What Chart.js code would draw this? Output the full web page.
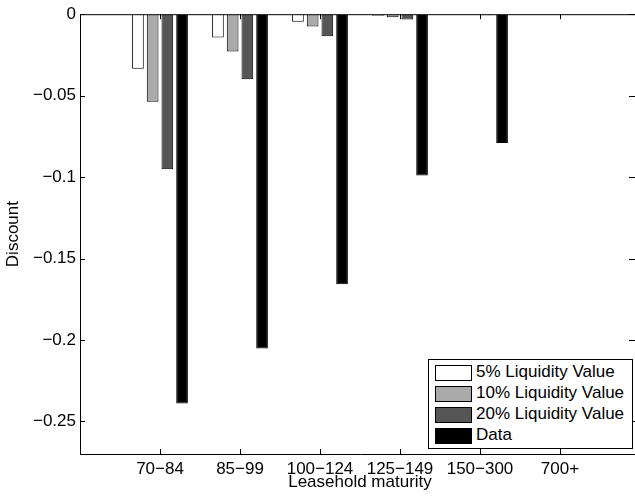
<!DOCTYPE html>
<html lang="en">
<head>
    <meta charset="UTF-8">
    <title>Leasehold discount</title>
    <script src="https://cdn.jsdelivr.net/npm/chart.js"></script>
    <style>
        html, body { margin: 0; padding: 0; overflow: hidden; background: #fff; }
        /* axes run a few px past the right edge, as in the original figure */
        #wrap { position: relative; width: 635px; height: 496px; overflow: hidden; }
        #myChart { position: absolute; left: 0; top: 0; }
        #legend {
            position: absolute; left: 428px; top: 359px; width: 205px; height: 90px;
            box-sizing: border-box; border: 1px solid #000; background: #fff;
            font-family: "Liberation Sans", Arial, sans-serif; font-size: 17px; color: #000;
        }
        .row { position: absolute; left: 6px; height: 16px; white-space: nowrap; }
        .sw { position: absolute; left: 0; top: 0; width: 37px; height: 16px; box-sizing: border-box; border: 1px solid #000; }
        .tx { position: absolute; left: 41px; top: -3px; line-height: 20px; }
    </style>
</head>
<body>
<div id="wrap">
    <canvas id="myChart" width="645" height="496"></canvas>
    <div id="legend"></div>
</div>

<script>
    // values
    const categories = ['70\u221284', '85\u221299', '100\u2212124', '125\u2212149', '150\u2212300', '700+'];
    const liq5 = [-0.0335, -0.0143, -0.0047, -0.0009, -0.0003, -0.0001];
    const liq10 = [-0.0537, -0.0229, -0.0075, -0.0019, -0.0005, -0.0002];
    const liq20 = [-0.0952, -0.0400, -0.0135, -0.0033, -0.0007, -0.0003];
    const observed = [-0.239, -0.2053, -0.1658, -0.099, -0.079, -0.0005];
    const yTicks = [0, -0.05, -0.1, -0.15, -0.2, -0.25];

    const seriesNames = ['5% Liquidity Value', '10% Liquidity Value', '20% Liquidity Value', 'Data'];
    const seriesColors = ['#ffffff', '#aaaaaa', '#555555', '#000000'];

    // matlab-style x limits: one empty slot each side
    const labels = [''].concat(categories, ['']);
    const pad = arr => [null].concat(arr, [null]);

    const font = { family: '"Liberation Sans", Arial, sans-serif', size: 17 };

    // top border plus inward ticks (right border sits off-canvas)
    const boxAxes = {
        id: 'boxAxes',
        afterDatasetsDraw(chart) {
            const { ctx, chartArea: a, scales: { x, y } } = chart;
            ctx.save();
            ctx.strokeStyle = '#000';
            ctx.lineWidth = 1;
            ctx.beginPath();
            ctx.moveTo(a.left, a.top + 0.5);
            ctx.lineTo(a.right, a.top + 0.5);
            x.ticks.forEach((t, i) => {
                if (!t.label) return;
                const px = Math.round(x.getPixelForTick(i)) + 0.5;
                ctx.moveTo(px, a.bottom); ctx.lineTo(px, a.bottom - 5);
                ctx.moveTo(px, a.top); ctx.lineTo(px, a.top + 5);
            });
            y.ticks.forEach((t, i) => {
                const py = Math.round(y.getPixelForTick(i)) + 0.5;
                ctx.moveTo(a.left, py); ctx.lineTo(a.left + 5, py);
                ctx.moveTo(a.right, py); ctx.lineTo(a.right - 11, py);
            });
            ctx.stroke();
            ctx.restore();
        }
    };

    const ctx = document.getElementById('myChart').getContext('2d');
    const myChart = new Chart(ctx, {
        type: 'bar',
        data: {
            labels: labels,
            datasets: [liq5, liq10, liq20, observed].map((vals, i) => ({
                label: seriesNames[i],
                data: pad(vals),
                backgroundColor: seriesColors[i],
                borderColor: '#000',
                borderWidth: 1,
                categoryPercentage: 0.735,
                barPercentage: 0.795
            }))
        },
        options: {
            responsive: false,
            animation: false,
            layout: { padding: { left: 0, top: 14, right: 5, bottom: 0 } },
            plugins: {
                legend: { display: false },
                tooltip: { enabled: false }
            },
            scales: {
                x: {
                    offset: false,
                    grid: { drawOnChartArea: false, drawTicks: false },
                    border: { color: '#000', width: 1 },
                    ticks: { color: '#000', font: font, padding: 5, autoSkip: false, maxRotation: 0 },
                    title: { display: true, text: 'Leasehold maturity', color: '#000', font: font, padding: { top: 0, bottom: 3 } },
                    afterFit: s => { s.height = 42; }
                },
                y: {
                    min: -0.27,
                    max: 0,
                    grid: { drawOnChartArea: false, drawTicks: false },
                    border: { color: '#000', width: 1 },
                    afterBuildTicks: s => { s.ticks = yTicks.map(v => ({ value: v })); },
                    ticks: {
                        color: '#000', font: font, padding: 4,
                        callback: v => v === 0 ? '0' : '\u2212' + String(Math.abs(v))
                    },
                    title: { display: true, text: 'Discount', color: '#000', font: font, padding: { top: 3, bottom: 0 } },
                    afterFit: s => { s.width = 80; }
                }
            }
        },
        plugins: [boxAxes]
    });

    // legend box inside the axes, bottom right
    const legendEl = document.getElementById('legend');
    myChart.data.datasets.forEach((ds, i) => {
        const row = document.createElement('div');
        row.className = 'row';
        row.style.top = (5 + i * 21) + 'px';
        const sw = document.createElement('span');
        sw.className = 'sw';
        sw.style.background = ds.backgroundColor;
        const tx = document.createElement('span');
        tx.className = 'tx';
        tx.textContent = ds.label;
        row.appendChild(sw);
        row.appendChild(tx);
        legendEl.appendChild(row);
    });
</script>
</body>
</html>
